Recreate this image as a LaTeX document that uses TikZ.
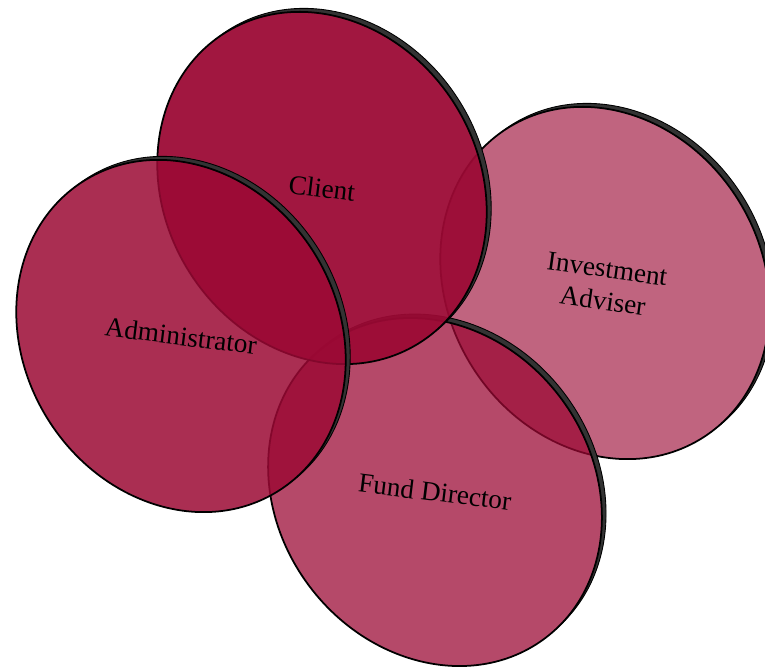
\documentclass[tikz,border=0pt]{standalone}
\usepackage{fontspec}
\setmainfont{Liberation Serif}
\usepackage{xcolor}

\definecolor{wine}{RGB}{155,9,52}

\begin{document}
\begin{tikzpicture}[
    disc/.style={fill=wine, fill opacity=#1, draw=black, line width=1pt},
    rim/.style={fill=black!80, draw=black, line width=0.5pt, nonzero rule},
    tag/.style={font=\fontsize{15.5}{18.5}\selectfont, align=center, rotate=-7}
]
    \useasboundingbox (0,0) rectangle (15.3,13.42);

    % tilted discs, back to front: centre / tilt / opacity / name
    \foreach \cx/\cy/\tilt/\op/\nm in {12.10/7.76/32/0.63/adviser, 8.70/3.58/37/0.74/fund,
                                       6.44/9.66/32/0.94/client, 3.62/6.70/32/0.85/admin} {
        \coordinate (\nm) at (\cx,\cy);
        \begin{scope}[shift={(\nm)}, rotate=\tilt]
            % thickness of the disc, only outside its face
            \begin{scope}[even odd rule]
                \clip (-5,-5) rectangle (5,5) (0,0) ellipse (3.14 and 3.66);
                \filldraw[rim] (0.113,0.012) ellipse (3.14 and 3.66);
            \end{scope}
            \draw[disc=\op] (0,0) ellipse (3.14 and 3.66);
        \end{scope}
    }

    \node[tag] (client-tag) at (client) {Client};
    \node[tag, rotate=-1] (adviser-tag) at ([yshift=-0.04cm]adviser) {Investment\\Adviser};
    \node[tag] (admin-tag) at (admin) {Administrator};
    \node[tag] (fund-tag) at (fund) {Fund Director};
\end{tikzpicture}
\end{document}
